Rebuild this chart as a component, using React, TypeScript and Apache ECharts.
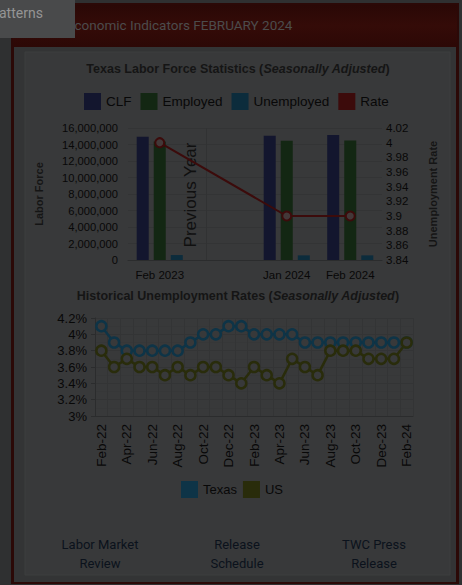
import React, { useEffect, useRef } from 'react';
import * as echarts from 'echarts';

const barCategories = ['Feb 2023', '', 'Jan 2024', 'Feb 2024'];
const clfValues = [14950000, '-', 15070000, 15150000];
const employedValues = [14350000, '-', 14460000, 14480000];
const unemployedValues = [600000, '-', 560000, 560000];
const rateValues = [4.0, '-', 3.9, 3.9];

const months = [
  'Feb-22', 'Mar-22', 'Apr-22', 'May-22', 'Jun-22', 'Jul-22', 'Aug-22', 'Sep-22', 'Oct-22', 'Nov-22', 'Dec-22',
  'Jan-23', 'Feb-23', 'Mar-23', 'Apr-23', 'May-23', 'Jun-23', 'Jul-23', 'Aug-23', 'Sep-23', 'Oct-23', 'Nov-23', 'Dec-23',
  'Jan-24', 'Feb-24',
];
const texasRates = [4.1, 3.9, 3.8, 3.8, 3.8, 3.8, 3.8, 3.9, 4.0, 4.0, 4.1, 4.1, 4.0, 4.0, 4.0, 4.0, 3.9, 3.9, 3.9, 3.9, 3.9, 3.9, 3.9, 3.9, 3.9];
const usRates = [3.8, 3.6, 3.7, 3.6, 3.6, 3.5, 3.6, 3.5, 3.6, 3.6, 3.5, 3.4, 3.6, 3.5, 3.4, 3.7, 3.6, 3.5, 3.8, 3.8, 3.8, 3.7, 3.7, 3.7, 3.9];

const FONT = '"Liberation Sans", Arial, sans-serif';
const PAGE_FONT = 'Roboto, "Liberation Sans", sans-serif';
const TXT = '#080808';
const GRIDC = '#333435';
const CARD = '#38393a';
const C_CLF = '#13162e';
const C_EMP = '#132713';
const C_UNE = '#0c2c3c';
const C_RATE = '#3c0b0b';
const C_TX = '#0e3447';
const C_US = '#292c0b';

export default function App() {
  const ref = useRef<HTMLDivElement>(null);
  useEffect(() => {
    if (!ref.current) return;
    const chart = echarts.init(ref.current, null, { renderer: 'svg' });
    const option: any = {
      animation: false,
      darkMode: false,
      backgroundColor: 'transparent',
      graphic: [
        { type: 'rect', z: -10, shape: { x: 11, y: 3, width: 448, height: 581 }, style: { fill: '#2b0907' } },
        {
          type: 'rect', z: -9, shape: { x: 13, y: 5, width: 444, height: 42 },
          style: {
            fill: new echarts.graphic.LinearGradient(0, 0, 0, 1, [
              { offset: 0, color: '#2a0806' },
              { offset: 0.5, color: '#340b08' },
              { offset: 1, color: '#2c0806' },
            ]),
          },
        },
        { type: 'rect', z: -9, shape: { x: 14, y: 47, width: 442, height: 535 }, style: { fill: '#333435' } },
        { type: 'rect', z: -8, shape: { x: 25, y: 52, width: 425, height: 523 }, style: { fill: CARD, stroke: '#3d3e3f', lineWidth: 1 } },
        {
          type: 'text', z: 5, x: 67, y: 25,
          style: { text: 'Economic Indicators FEBRUARY 2024', fill: '#4c4c4c', font: `13.5px ${PAGE_FONT}`, textVerticalAlign: 'middle' },
        },
        { type: 'rect', z: 6, shape: { x: 0, y: 0, width: 75, height: 38 }, style: { fill: '#494a4b' } },
        {
          type: 'text', z: 7, x: -1, y: 13,
          style: { text: 'atterns', fill: '#959595', font: `14px ${PAGE_FONT}`, textVerticalAlign: 'middle' },
        },
        {
          type: 'text', z: 5, x: 238, y: 69,
          style: {
            text: 'Texas Labor Force Statistics ({i|Seasonally Adjusted})',
            fill: '#151515', font: `bold 12.5px ${FONT}`, textAlign: 'center', textVerticalAlign: 'middle',
            rich: { i: { fontStyle: 'italic', fontWeight: 'bold', fontSize: 12.5, fill: '#151515', fontFamily: FONT } },
          },
        },
        {
          type: 'text', z: 5, x: 238, y: 296,
          style: {
            text: 'Historical Unemployment Rates ({i|Seasonally Adjusted})',
            fill: '#151515', font: `bold 12.5px ${FONT}`, textAlign: 'center', textVerticalAlign: 'middle',
            rich: { i: { fontStyle: 'italic', fontWeight: 'bold', fontSize: 12.5, fill: '#151515', fontFamily: FONT } },
          },
        },
        {
          type: 'text', z: 5, x: 190, y: 195, rotation: Math.PI / 2,
          style: { text: 'Previous Year', fill: '#101010', font: `17px ${FONT}`, textAlign: 'center', textVerticalAlign: 'middle' },
        },
        {
          type: 'text', z: 5, x: 100, y: 554,
          style: { text: 'Labor Market\nReview', fill: '#0b121c', font: `13px ${PAGE_FONT}`, lineHeight: 19, textAlign: 'center', textVerticalAlign: 'middle' },
        },
        {
          type: 'text', z: 5, x: 237, y: 554,
          style: { text: 'Release\nSchedule', fill: '#0b121c', font: `13px ${PAGE_FONT}`, lineHeight: 19, textAlign: 'center', textVerticalAlign: 'middle' },
        },
        {
          type: 'text', z: 5, x: 374, y: 554,
          style: { text: 'TWC Press\nRelease', fill: '#0b121c', font: `13px ${PAGE_FONT}`, lineHeight: 19, textAlign: 'center', textVerticalAlign: 'middle' },
        },
      ],
      legend: [
        {
          left: 79, top: 88, itemWidth: 17, itemHeight: 17, itemGap: 9, icon: 'rect',
          textStyle: { color: TXT, fontSize: 13.5, fontFamily: FONT },
          data: [
            { name: 'CLF', itemStyle: { color: C_CLF } },
            { name: 'Employed', itemStyle: { color: C_EMP } },
            { name: 'Unemployed', itemStyle: { color: C_UNE } },
            { name: 'Rate', itemStyle: { color: C_RATE, borderWidth: 0 } },
          ],
        },
        {
          left: 176, top: 476, itemWidth: 17, itemHeight: 17, itemGap: 6, icon: 'rect',
          textStyle: { color: TXT, fontSize: 13, fontFamily: FONT },
          data: [
            { name: 'Texas', itemStyle: { color: C_TX, borderWidth: 0 } },
            { name: 'US', itemStyle: { color: C_US, borderWidth: 0 } },
          ],
        },
      ],
      grid: [
        { left: 128, top: 128, width: 254, height: 132 },
        { left: 95, top: 318, width: 318, height: 98 },
      ],
      xAxis: [
        {
          type: 'category', gridIndex: 0, data: barCategories,
          axisLine: { lineStyle: { color: '#2b2c2d' } },
          axisTick: { length: 5, lineStyle: { color: '#2b2c2d' } },
          axisLabel: { color: TXT, fontSize: 11.5, margin: 9, fontFamily: FONT, interval: 0, hideOverlap: false },
          splitLine: { show: false },
        },
        {
          type: 'category', gridIndex: 1, data: months,
          axisLine: { lineStyle: { color: '#2b2c2d' } },
          axisTick: { length: 5, interval: 0, lineStyle: { color: '#2b2c2d' } },
          axisLabel: { color: TXT, fontSize: 13.5, rotate: 90, interval: 1, margin: 8, fontFamily: FONT },
          splitLine: { show: true, interval: 0, lineStyle: { color: GRIDC } },
        },
      ],
      yAxis: [
        {
          type: 'value', gridIndex: 0, min: 0, max: 16000000, interval: 2000000,
          name: 'Labor Force', nameLocation: 'middle', nameRotate: 90, nameGap: 84,
          nameTextStyle: { color: '#151515', fontWeight: 'bold', fontSize: 11, fontFamily: FONT },
          axisLine: { show: false }, axisTick: { show: false },
          axisLabel: { color: TXT, fontSize: 11.2, margin: 10, fontFamily: FONT, formatter: (v: number) => v.toLocaleString('en-US') },
          splitLine: { lineStyle: { color: GRIDC } },
        },
        {
          type: 'value', gridIndex: 0, position: 'right', min: 3.84, max: 4.02, interval: 0.02,
          name: 'Unemployment Rate', nameLocation: 'middle', nameRotate: 90, nameGap: 45,
          nameTextStyle: { color: '#151515', fontWeight: 'bold', fontSize: 11, fontFamily: FONT },
          axisLine: { show: false }, axisTick: { show: false },
          axisLabel: { color: TXT, fontSize: 11.5, margin: 4, fontFamily: FONT, formatter: (v: number) => String(parseFloat(v.toFixed(2))) },
          splitLine: { show: false },
        },
        {
          type: 'value', gridIndex: 1, min: 3, max: 4.2, interval: 0.2,
          axisLine: { show: true, lineStyle: { color: '#2b2c2d' } },
          axisTick: { show: true, length: 4, lineStyle: { color: '#2b2c2d' } },
          axisLabel: { color: TXT, fontSize: 13, margin: 8, fontFamily: FONT, formatter: (v: number) => parseFloat(v.toFixed(1)) + '%' },
          splitLine: { lineStyle: { color: GRIDC } },
          minorTick: { show: false, splitNumber: 2 },
          minorSplitLine: { show: true, lineStyle: { color: '#363738' } },
        },
      ],
      series: [
        {
          name: 'CLF', type: 'bar', xAxisIndex: 0, yAxisIndex: 0, data: clfValues, barWidth: 12, barGap: '42%',
          itemStyle: { color: C_CLF },
          markLine: {
            silent: true, symbol: 'none', label: { show: false },
            lineStyle: { color: '#313233', width: 1, type: 'solid' },
            data: [{ xAxis: 1 }],
          },
        },
        { name: 'Employed', type: 'bar', xAxisIndex: 0, yAxisIndex: 0, data: employedValues, barWidth: 12, itemStyle: { color: C_EMP } },
        { name: 'Unemployed', type: 'bar', xAxisIndex: 0, yAxisIndex: 0, data: unemployedValues, barWidth: 12, itemStyle: { color: C_UNE } },
        {
          name: 'Rate', type: 'line', xAxisIndex: 0, yAxisIndex: 1, data: rateValues, connectNulls: true,
          symbol: 'circle', symbolSize: 9, z: 5, showAllSymbol: true,
          lineStyle: { color: C_RATE, width: 2 },
          itemStyle: { color: '#433838', borderColor: C_RATE, borderWidth: 2 },
        },
        {
          name: 'Texas', type: 'line', xAxisIndex: 1, yAxisIndex: 2, data: texasRates,
          symbol: 'circle', symbolSize: 10, showAllSymbol: true,
          lineStyle: { color: C_TX, width: 2.5 },
          itemStyle: { color: CARD, borderColor: C_TX, borderWidth: 2.5 },
        },
        {
          name: 'US', type: 'line', xAxisIndex: 1, yAxisIndex: 2, data: usRates,
          symbol: 'circle', symbolSize: 10, showAllSymbol: true,
          lineStyle: { color: C_US, width: 2.5 },
          itemStyle: { color: CARD, borderColor: C_US, borderWidth: 2.5 },
        },
      ],
    };
    chart.setOption(option);
    return () => chart.dispose();
  }, []);
  return <div ref={ref} style={{ position: 'absolute', left: 0, top: 0, width: 462, height: 585, background: '#2f3031' }} />;
}
